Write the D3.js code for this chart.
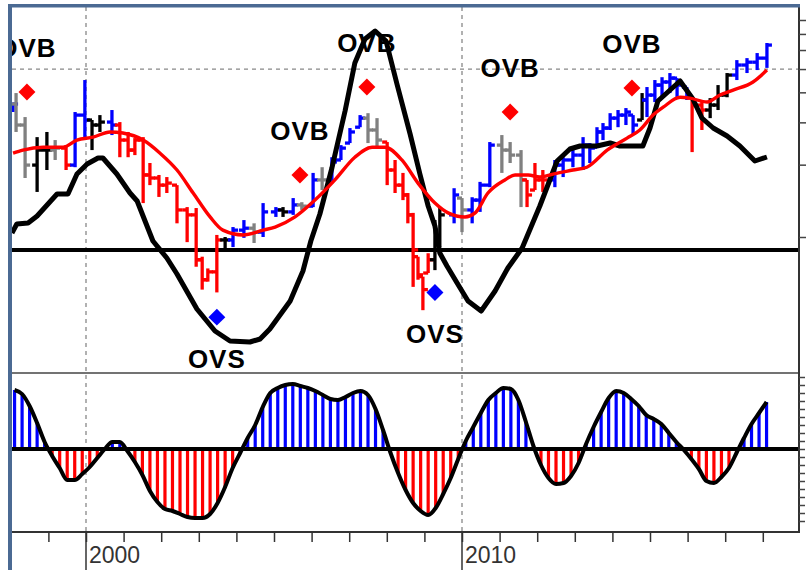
<!DOCTYPE html>
<html>
<head>
<meta charset="utf-8">
<script src="https://cdn.jsdelivr.net/npm/d3@7"></script>
<style>
  body { margin: 0; background: #fff; }
  svg { display: block; }
</style>
</head>
<body>
<div id="viz"></div>
<script>
// price bars, moving average, cycle line (top) and histogram oscillator (bottom)
// values

const barDate  = [1998.06,1998.14,1998.38,1998.70,1998.96,1999.18,1999.47,1999.71,1999.97,2000.16,
                  2000.37,2000.69,2000.90,2001.12,2001.30,2001.52,2001.70,2001.94,2002.15,2002.42,
                  2002.69,2002.93,2003.09,2003.24,2003.48,2003.70,2003.91,2004.20,2004.47,2004.71,
                  2005.05,2005.24,2005.51,2005.74,2006.04,2006.28,2006.54,2006.78,2007.02,2007.29,
                  2007.50,2007.74,2008.01,2008.22,2008.43,2008.56,2008.70,2008.83,2008.96,2009.10,
                  2009.28,2009.41,2009.79,2010.00,2010.27,2010.48,2010.74,2011.06,2011.28,2011.57,
                  2011.73,2011.94,2012.15,2012.47,2012.69,2012.95,2013.22,2013.40,2013.59,2013.75,
                  2013.94,2014.15,2014.36,2014.55,2014.79,2014.92,2015.13,2015.32,2015.53,2015.72,
                  2015.98,2016.12,2016.38,2016.60,2016.81,2017.05,2017.31,2017.58,2017.85,2018.11];
const barHigh  = [90.2,99.3,78.9,65.1,68.4,63.3,60.3,82.8,112.5,76.7,
                  80.4,84.4,75.2,68.4,64.5,65.1,50.8,45.3,44.4,41.1,
                  33.3,33.0,20.7,18.5,25.5,25.0,27.5,29.4,28.5,34.6,
                  33.3,33.3,36.3,34.9,46.2,48.8,53.7,60.3,71.0,80.4,
                  81.9,78.1,62.1,52.3,46.2,38.1,31.5,20.7,17.1,21.4,
                  29.4,33.3,39.9,36.3,36.6,42.4,62.1,66.4,62.1,57.5,
                  43.2,50.8,47.5,52.3,53.7,57.5,65.1,61.5,71.6,74.5,
                  81.9,84.4,86.0,80.4,99.3,105.2,112.5,115.6,120.3,114.6,
                  105.2,94.6,92.9,94.6,107.2,120.3,136.2,138.8,145.7,160.4];
const barLow   = [82.8,68.4,44.0,38.5,47.5,52.3,47.5,48.8,65.1,57.5,
                  68.4,66.4,53.7,53.7,54.8,34.6,41.1,36.7,38.1,28.5,
                  23.8,18.8,15.1,16.3,14.7,21.7,22.7,24.8,23.6,25.0,
                  30.3,30.3,30.9,32.4,33.3,39.2,41.9,52.3,61.5,71.6,
                  61.5,59.1,41.1,38.1,35.6,28.5,15.5,16.6,12.4,17.7,
                  18.2,22.7,28.5,26.2,28.5,31.8,40.3,46.2,50.8,33.3,
                  33.3,39.2,38.5,40.3,44.4,48.8,47.5,50.8,59.1,63.3,
                  69.7,71.6,73.1,66.4,76.7,78.9,91.1,95.4,99.3,95.4,
                  92.9,56.4,69.7,78.1,84.4,95.4,112.5,120.3,123.8,126.4];
const barClose = [89.4,73.1,49.8,57.5,57.5,58.6,49.8,80.4,76.7,73.1,
                  75.2,73.1,63.3,57.5,63.3,45.3,44.0,41.1,41.9,32.4,
                  30.9,20.1,16.6,17.9,24.3,24.3,26.7,27.2,26.2,31.8,
                  32.4,31.8,34.0,33.6,43.2,43.2,51.3,58.6,68.4,78.1,
                  69.7,63.3,47.5,41.1,37.4,30.9,22.1,17.4,15.1,20.1,
                  24.3,30.9,37.4,32.4,35.6,41.1,60.3,57.5,54.8,43.2,
                  37.4,43.2,43.2,49.8,52.3,54.8,60.3,58.6,68.4,71.0,
                  78.1,80.4,82.8,73.1,92.9,97.4,107.2,110.4,114.6,107.2,
                  97.4,88.5,84.4,88.5,97.4,118.0,129.9,133.5,138.8,157.3];
// b = up, r = down, g = pause, k = neutral
const barTrend = "bggkkgrbbkkbrrrrrrrrrrrrrkbbgbbkbgbgbbbbggrrrrrrrrkkbgbbbgggrrrbbbbbbbbbbbkbbbbbbrrkkkbbbbb";

const maDate  = [1998.06,1998.32,1998.86,1999.39,1999.76,2000.19,2000.64,2000.98,2001.52,2001.97,
                 2002.42,2002.85,2003.30,2003.64,2004.18,2004.71,2005.03,2005.56,2006.09,2006.62,
                 2007.15,2007.61,2007.95,2008.40,2008.83,2009.28,2009.63,2010.08,2010.35,2010.69,
                 2011.14,2011.41,2011.76,2012.07,2012.42,2012.95,2013.32,2013.86,2014.39,2014.73,
                 2015.08,2015.35,2015.80,2016.06,2016.52,2016.86,2017.21,2017.74,2018.11];
const maValue = [55.8,57.5,59.1,59.1,63.3,65.1,68.4,67.7,63.3,55.8,
                 47.5,38.1,30.3,26.7,25.5,26.7,27.5,30.3,35.6,43.2,
                 53.7,59.1,59.1,52.3,41.9,34.6,31.5,30.3,31.5,38.1,
                 43.2,45.3,45.3,44.4,45.7,47.5,48.8,57.5,64.5,69.7,
                 80.4,86.7,95.4,94.6,91.1,97.4,102.2,110.4,123.8];

const oscDate  = [1998.03,1998.16,1998.46,1998.70,1999.23,1999.52,1999.76,2000.03,2000.32,2000.45,
                  2000.82,2001.17,2001.36,2001.78,2002.15,2002.42,2002.95,2003.43,2003.83,2004.36,
                  2004.63,2004.89,2005.43,2005.77,2005.98,2006.22,2006.54,2006.89,2007.15,2007.42,
                  2007.69,2007.98,2008.27,2008.62,2008.88,2009.10,2009.28,2009.41,2009.60,2009.87,
                  2010.16,2010.51,2010.88,2011.22,2011.60,2012.07,2012.53,2012.87,2013.14,2013.59,
                  2013.94,2014.20,2014.81,2015.00,2015.21,2015.80,2016.14,2016.38,2016.68,2017.05,
                  2017.39,2017.79,2018.11];
const oscValue = [8.5,13,13.5,17,28,28,38,43,46,46,
                  38,28.5,24.5,4.5,-4,-12,-29.5,-40.5,-45.5,-46,
                  -44.5,-39.5,-25.5,-10.5,4.5,18,41,69.5,93.5,105.5,
                  109.5,104.5,83,58,38,22,12,-1.5,-8,-16.5,
                  -25.5,-30.5,-20.5,-9,1,22,44.5,50.5,52,52,
                  53.5,52,52,61,74.5,84.5,75.5,66,61,57,
                  52,44.5,46.5];

// histogram bars, one every 0.2 year from 1998.1
const histStart = 1998.1;
const histStep = 0.2;
const histValue = [59,55,43,26,7,-7,-19,-31,-31,-25,
                   -18,-9,0,7,7,-2,-13,-26,-42,-53,
                   -60,-62,-65,-68,-69,-69,-65,-54,-38,-19,
                   -4,11,24,42,56,61,64,65,63,61,
                   58,54,50,49,52,56,58,54,40,19,
                   -4,-24,-41,-54,-62,-66,-59,-45,-29,-10,
                   8,22,36,49,56,61,60,49,27,3,
                   -16,-29,-35,-34,-27,-14,5,22,37,51,
                   58,56,50,43,34,30,25,16,7,-1,
                   -10,-20,-32,-34,-28,-19,-4,11,25,36,
                   47];

const signalDate  = [1998.43, 2003.48, 2005.69, 2007.47, 2009.28, 2011.28, 2014.52];
const signalPrice = [100.3, 11.6, 45.3, 105.2, 14.7, 82.8, 104.2];
const signalType  = ["OVB", "OVS", "OVB", "OVB", "OVS", "OVB", "OVB"];

const yearTicks  = d3.range(1998, 2019);
const yearLabels = [2000, 2010];
const priceTicks = [25, 50, 75, 100, 125, 150, 175, 200];
const priceGrid  = [125];
const histTicks  = d3.range(-72, 73, 8);

function drawChart() {
    const dimensions = {
        width: 808,
        height: 570,
        left: 12,
        right: 799,
        top: 7,
        split: 373,
        bottom: 532
    };

    const trendColor = { b: '#0000ff', r: '#ff0000', g: '#808080', k: '#000000' };
    const frameColor = '#4b6a93';
    const font = '"Liberation Sans", Arial, sans-serif';

    const viz = d3.select('#viz').append('svg')
        .attr('width', dimensions.width)
        .attr('height', dimensions.height)
        .style('background', '#fff');

    // scales
    const xScale = d3.scaleLinear().domain([2000, 2010]).range([86, 462]);
    const yPrice = d3.scaleLog().domain([25, 200]).range([237, 20]);
    const yOsc = d3.scaleLinear().domain([0, 100]).range([250, 50]);
    const yHist = d3.scaleLinear().domain([0, 76]).range([449, 373]);

    viz.append('clipPath').attr('id', 'plotClip')
        .append('rect')
        .attr('x', dimensions.left).attr('y', dimensions.top)
        .attr('width', dimensions.right - dimensions.left)
        .attr('height', dimensions.bottom - dimensions.top);

    const plot = viz.append('g').attr('clip-path', 'url(#plotClip)');

    // dashed grid
    plot.selectAll('.vgrid').data(yearLabels).join('line')
        .attr('x1', d => xScale(d)).attr('x2', d => xScale(d))
        .attr('y1', dimensions.top).attr('y2', dimensions.bottom)
        .attr('stroke', '#888').attr('stroke-width', 1.3).attr('stroke-dasharray', '4,4');
    plot.selectAll('.hgrid').data(priceGrid).join('line')
        .attr('x1', dimensions.left).attr('x2', dimensions.right)
        .attr('y1', d => yPrice(d)).attr('y2', d => yPrice(d))
        .attr('stroke', '#888').attr('stroke-width', 1.3).attr('stroke-dasharray', '4,4');

    // zero line of the cycle
    plot.append('line')
        .attr('x1', dimensions.left).attr('x2', dimensions.right)
        .attr('y1', yOsc(0)).attr('y2', yOsc(0))
        .attr('stroke', '#000').attr('stroke-width', 4);

    // price bars
    const bars = barDate.map((d, i) => {
        const prev = i ? barClose[i - 1] : barClose[i];
        return {
            date: d,
            high: barHigh[i],
            low: barLow[i],
            close: barClose[i],
            open: Math.max(barLow[i], Math.min(barHigh[i], prev)),
            color: trendColor[barTrend[i]]
        };
    });

    const barG = plot.append('g').selectAll('g').data(bars).join('g')
        .attr('stroke', d => d.color).attr('stroke-width', 3.3);
    barG.append('line')
        .attr('x1', d => xScale(d.date)).attr('x2', d => xScale(d.date))
        .attr('y1', d => yPrice(d.high)).attr('y2', d => yPrice(d.low));
    barG.append('line')
        .attr('x1', d => xScale(d.date) - 5).attr('x2', d => xScale(d.date))
        .attr('y1', d => yPrice(d.open)).attr('y2', d => yPrice(d.open));
    barG.append('line')
        .attr('x1', d => xScale(d.date)).attr('x2', d => xScale(d.date) + 5)
        .attr('y1', d => yPrice(d.close)).attr('y2', d => yPrice(d.close));

    // cycle line
    const oscLine = d3.line()
        .x((d, i) => xScale(oscDate[i]))
        .y(d => yOsc(d));
    plot.append('path')
        .datum(oscValue)
        .attr('fill', 'none')
        .attr('stroke', '#000')
        .attr('stroke-width', 5)
        .attr('stroke-linejoin', 'round')
        .attr('d', oscLine);

    // moving average
    const maLine = d3.line()
        .x((d, i) => xScale(maDate[i]))
        .y(d => yPrice(d))
        .curve(d3.curveMonotoneX);
    plot.append('path')
        .datum(maValue)
        .attr('fill', 'none')
        .attr('stroke', '#ff0000')
        .attr('stroke-width', 3.4)
        .attr('d', maLine);

    // signals
    const signals = signalDate.map((d, i) => ({ date: d, price: signalPrice[i], type: signalType[i] }));
    plot.selectAll('.sig').data(signals).join('path')
        .attr('transform', d => `translate(${xScale(d.date)},${yPrice(d.price)}) rotate(45)`)
        .attr('d', d3.symbol().type(d3.symbolSquare).size(144))
        .attr('fill', d => d.type === 'OVB' ? '#ff0000' : '#0000ff');
    plot.selectAll('.sigLabel').data(signals).join('text')
        .attr('x', d => xScale(d.date))
        .attr('y', d => yPrice(d.price) + (d.type === 'OVB' ? -35 : 51))
        .attr('text-anchor', 'middle')
        .style('font-family', font)
        .style('font-weight', 'bold')
        .style('font-size', '26px')
        .style('letter-spacing', '1px')
        .text(d => d.type);

    // histogram panel
    const hist = histValue.map((v, i) => ({ date: histStart + histStep * i, value: v }));
    plot.append('g').selectAll('rect').data(hist).join('rect')
        .attr('x', d => xScale(d.date) - 1.6)
        .attr('width', 3.2)
        .attr('y', d => Math.min(yHist(d.value), yHist(0)))
        .attr('height', d => Math.abs(yHist(d.value) - yHist(0)))
        .attr('fill', d => d.value >= 0 ? '#0000ff' : '#ff0000');

    plot.append('line')
        .attr('x1', dimensions.left).attr('x2', dimensions.right)
        .attr('y1', yHist(0)).attr('y2', yHist(0))
        .attr('stroke', '#000').attr('stroke-width', 4);

    const histLine = d3.line()
        .x(d => xScale(d.date))
        .y(d => yHist(d.value))
        .curve(d3.curveMonotoneX);
    plot.append('path')
        .datum(hist)
        .attr('fill', 'none')
        .attr('stroke', '#000')
        .attr('stroke-width', 4)
        .attr('stroke-linejoin', 'round')
        .attr('d', histLine);

    // panel divider and axis lines
    viz.append('line')
        .attr('x1', dimensions.left).attr('x2', dimensions.right)
        .attr('y1', dimensions.split).attr('y2', dimensions.split)
        .attr('stroke', '#444').attr('stroke-width', 1.5);
    viz.append('line')
        .attr('x1', dimensions.left).attr('x2', dimensions.right + 1)
        .attr('y1', dimensions.bottom).attr('y2', dimensions.bottom)
        .attr('stroke', '#333').attr('stroke-width', 1.8);
    viz.append('line')
        .attr('x1', dimensions.right).attr('x2', dimensions.right)
        .attr('y1', 4).attr('y2', dimensions.bottom)
        .attr('stroke', '#333').attr('stroke-width', 2);

    // right axis ticks (no labels)
    const priceAxis = viz.append('g')
        .attr('transform', `translate(${dimensions.right},0)`)
        .call(d3.axisRight(yPrice).tickValues(priceTicks).tickSize(7).tickFormat(''));
    const histAxis = viz.append('g')
        .attr('transform', `translate(${dimensions.right},0)`)
        .call(d3.axisRight(yHist).tickValues(histTicks).tickSize(6).tickFormat(''));
    [priceAxis, histAxis].forEach(a => {
        a.select('.domain').remove();
        a.selectAll('line').attr('stroke', '#444').attr('stroke-width', 1.5);
    });

    // bottom axis
    const xAxis = viz.append('g')
        .attr('transform', `translate(0,${dimensions.bottom})`)
        .call(d3.axisBottom(xScale).tickValues(yearTicks.filter(d => xScale(d) > dimensions.left + 2)).tickSize(10).tickFormat(''));
    xAxis.select('.domain').remove();
    xAxis.selectAll('line').attr('stroke', '#333').attr('stroke-width', 1.5);

    viz.selectAll('.yearLong').data(yearLabels).join('line')
        .attr('x1', d => xScale(d)).attr('x2', d => xScale(d))
        .attr('y1', dimensions.bottom).attr('y2', dimensions.height)
        .attr('stroke', '#333').attr('stroke-width', 1.5);
    viz.selectAll('.yearLabel').data(yearLabels).join('text')
        .attr('x', d => xScale(d) + 3)
        .attr('y', 563)
        .style('font-family', font)
        .style('font-size', '23px')
        .attr('fill', '#333')
        .text(d => d);

    // outer frame
    viz.append('rect').attr('x', 8).attr('y', 4).attr('width', dimensions.right - 7).attr('height', 3.5)
        .attr('fill', frameColor);
    viz.append('rect').attr('x', 8).attr('y', 4).attr('width', 4).attr('height', dimensions.height - 4)
        .attr('fill', frameColor);
}

drawChart();
</script>
</body>
</html>
